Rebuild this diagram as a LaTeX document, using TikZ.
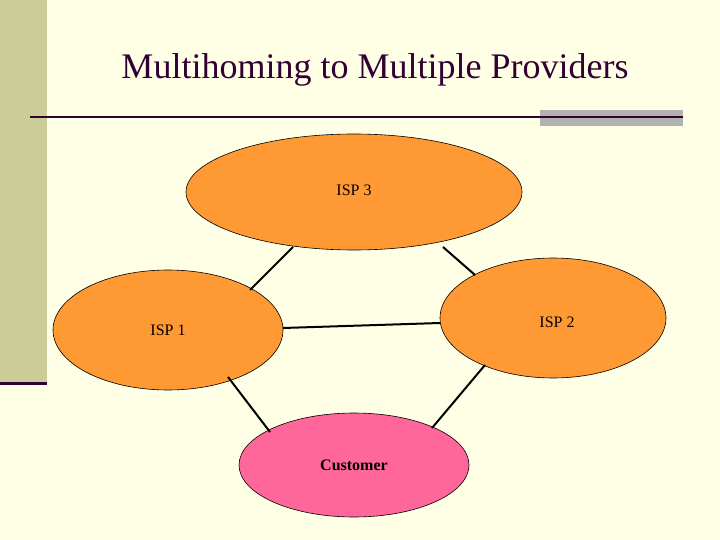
\documentclass[tikz,border=0pt]{standalone}
\usepackage{fontspec}
\setmainfont{Liberation Serif}
\definecolor{bg}{HTML}{FFFFE5}
\definecolor{bar}{HTML}{CCCC99}
\definecolor{dk}{HTML}{330033}
\definecolor{orng}{HTML}{FF9933}
\definecolor{pnk}{HTML}{FF6699}
\begin{document}
\begin{tikzpicture}[x=1pt,y=-1pt,
  isp/.style={ellipse,draw=black,fill=orng,line width=0.6pt,inner sep=0pt},
  link/.style={line width=2pt,black}]
\useasboundingbox (0,0) rectangle (720,540);
\fill[bg] (0,0) rectangle (720,540);
\fill[bar] (0,0) rectangle (47,383);
\draw[dk,line width=3pt] (0,383) -- (47,383);
\node[dk,font=\fontsize{36}{40}\selectfont] (title) at (375,70) {Multihoming to Multiple Providers};
\fill[gray!60] (540,110) rectangle (683,126);
\draw[dk,line width=2pt] (30,117) -- (683,117);
\path[draw=black,fill=orng,line width=0.6pt] (354,192) ellipse [x radius=168,y radius=58];
\node[font=\fontsize{16}{18}\selectfont] (isp3) at (354,190) {ISP 3};
\path[draw=black,fill=orng,line width=0.6pt] (168,330) ellipse [x radius=115,y radius=60];
\node[font=\fontsize{16}{18}\selectfont] (isp1) at (168,330) {ISP 1};
\path[draw=black,fill=orng,line width=0.6pt] (553,318) ellipse [x radius=113,y radius=60];
\node[font=\fontsize{16}{18}\selectfont] (isp2) at (557,322) {ISP 2};
\path[draw=black,fill=pnk,line width=0.6pt] (354,465) ellipse [x radius=115,y radius=52];
\node[font=\bfseries\fontsize{16}{18}\selectfont] (cust) at (354,465) {Customer};
\coordinate (a1) at (293,247); \coordinate (a2) at (250,290);
\coordinate (b1) at (443,247); \coordinate (b2) at (475,275);
\coordinate (c1) at (283,328); \coordinate (c2) at (440,323);
\coordinate (d1) at (228,377); \coordinate (d2) at (270,432);
\coordinate (e1) at (485,365); \coordinate (e2) at (432,428);
\draw[link] (a1) -- (a2);
\draw[link] (b1) -- (b2);
\draw[link] (c1) -- (c2);
\draw[link] (d1) -- (d2);
\draw[link] (e1) -- (e2);
\end{tikzpicture}
\end{document}
